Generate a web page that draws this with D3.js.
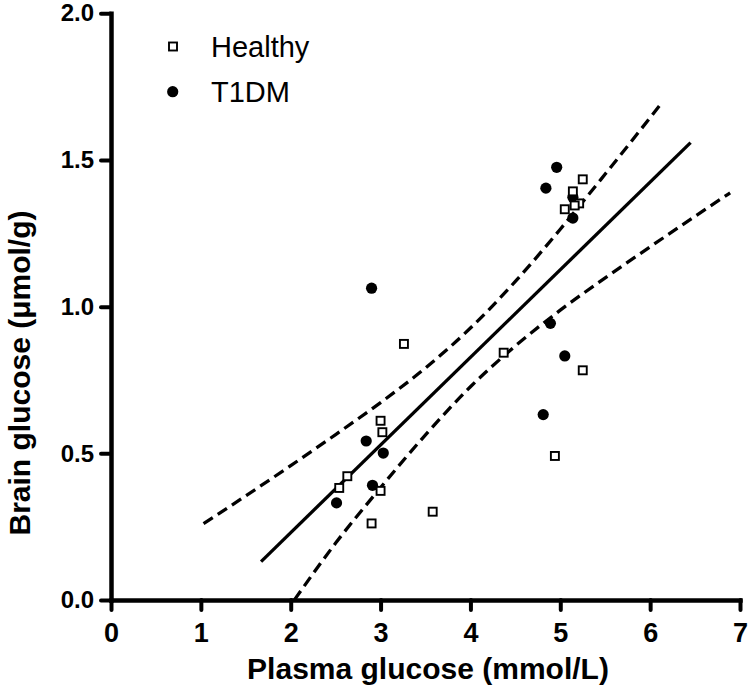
<!DOCTYPE html>
<html>
<head>
<meta charset="utf-8">
<script src="https://cdn.jsdelivr.net/npm/d3@7"></script>
<style>
  html, body { margin: 0; padding: 0; background: #fff; }
  svg { display: block; font-family: "Liberation Sans", Arial, sans-serif; }
</style>
</head>
<body>
<svg id="chart" width="749" height="693"></svg>
<script>
// ---- Data ----
const healthyX = [5.25, 5.14, 5.21, 5.16, 5.05, 3.26, 4.37, 5.25, 3.00, 3.02, 2.63, 2.54, 3.00, 3.58, 2.90, 4.94];
const healthyY = [1.434, 1.393, 1.352, 1.345, 1.332, 0.873, 0.843, 0.783, 0.611, 0.572, 0.422, 0.382, 0.372, 0.301, 0.261, 0.491];

const t1dmX = [4.96, 4.84, 5.14, 5.14, 2.90, 4.89, 5.05, 4.81, 2.84, 3.03, 2.91, 2.51];
const t1dmY = [1.475, 1.404, 1.373, 1.302, 1.063, 0.943, 0.832, 0.632, 0.542, 0.501, 0.391, 0.331];

// Regression line end points
const fitX = [1.67, 6.45];
const fitY = [0.131, 1.559];

// Confidence band (upper) points
const upperX = [1.03, 1.5, 2.0, 2.5, 3.0, 3.5, 4.0, 4.5, 5.0, 5.5, 6.12];
const upperY = [0.26, 0.355, 0.458, 0.564, 0.673, 0.791, 0.927, 1.086, 1.264, 1.452, 1.691];

// Confidence band (lower) points
const lowerX = [2.04, 2.5, 3.0, 3.5, 4.0, 4.5, 5.0, 5.5, 6.0, 6.5, 6.89];
const lowerY = [0.0, 0.194, 0.383, 0.563, 0.727, 0.866, 0.988, 1.098, 1.204, 1.308, 1.388];

const xTicks = [0, 1, 2, 3, 4, 5, 6, 7];
const yTicks = [0, 0.5, 1.0, 1.5, 2.0];

const legendLabels = ["Healthy", "T1DM"];
const xTitle = "Plasma glucose (mmol/L)";
const yTitle = "Brain glucose (\u03bcmol/g)";

// ---- Chart ----
const svg = d3.select("#chart");
const x = d3.scaleLinear().domain([0, 7]).range([111, 740]);
const y = d3.scaleLinear().domain([0, 2]).range([600, 13.3]);

const line = d3.line().x(d => x(d[0])).y(d => y(d[1]));
const curve = d3.line().x(d => x(d[0])).y(d => y(d[1])).curve(d3.curveMonotoneX);

// bands
[[upperX, upperY], [lowerX, lowerY]].forEach(([xs, ys]) => {
  svg.append("path")
    .attr("d", curve(xs.map((v, i) => [v, ys[i]])))
    .attr("fill", "none").attr("stroke", "#000").attr("stroke-width", 3.3)
    .attr("stroke-dasharray", "11,6");
});
// fit
svg.append("path")
  .attr("d", line(fitX.map((v, i) => [v, fitY[i]])))
  .attr("fill", "none").attr("stroke", "#000").attr("stroke-width", 3.3);

// axes
const yAxis = d3.axisLeft(y).tickValues(yTicks).tickFormat(d3.format(".1f"))
  .tickSize(10).tickSizeOuter(0).tickPadding(7);
const xAxis = d3.axisBottom(x).tickValues(xTicks).tickFormat(d3.format("d"))
  .tickSize(10).tickSizeOuter(0).tickPadding(13);

const gy = svg.append("g").attr("transform", `translate(${x(0)},0)`).call(yAxis);
const gx = svg.append("g").attr("transform", `translate(0,${y(0)})`).call(xAxis);

[gx, gy].forEach(g => {
  g.select(".domain").attr("stroke-width", 4.5).attr("stroke-linecap", "square");
  g.selectAll(".tick line").attr("stroke-width", 4).attr("stroke-linecap", "round");
  g.selectAll(".tick text").attr("fill", "#000").attr("font-weight", "bold")
    .attr("font-family", "'Liberation Sans', Arial, sans-serif");
});
gy.selectAll(".tick text").attr("font-size", 24);
gx.selectAll(".tick text").attr("font-size", 27);

// points: T1DM circles
svg.append("g").selectAll("circle")
  .data(t1dmX.map((v, i) => [v, t1dmY[i]]))
  .join("circle")
  .attr("cx", d => x(d[0])).attr("cy", d => y(d[1])).attr("r", 5.6)
  .attr("fill", "#000");

// points: Healthy squares
const sq = 8;
svg.append("g").selectAll("rect")
  .data(healthyX.map((v, i) => [v, healthyY[i]]))
  .join("rect")
  .attr("x", d => x(d[0]) - sq / 2).attr("y", d => y(d[1]) - sq / 2)
  .attr("width", sq).attr("height", sq)
  .attr("fill", "#fff").attr("stroke", "#000").attr("stroke-width", 1.9);

// legend
const lg = svg.append("g");
lg.append("rect").attr("x", 173 - sq / 2).attr("y", 46.5 - sq / 2).attr("width", sq).attr("height", sq)
  .attr("fill", "#fff").attr("stroke", "#000").attr("stroke-width", 1.9);
lg.append("circle").attr("cx", 172.7).attr("cy", 91.7).attr("r", 5.6).attr("fill", "#000");
lg.append("text").attr("x", 211).attr("y", 57).attr("font-size", 29).text(legendLabels[0]);
lg.append("text").attr("x", 211).attr("y", 102).attr("font-size", 29).text(legendLabels[1]);

// titles
svg.append("text").attr("x", 428).attr("y", 679).attr("text-anchor", "middle")
  .attr("font-size", 30).attr("font-weight", "bold").text(xTitle);
svg.append("text").attr("transform", "translate(30,373) rotate(-90)").attr("text-anchor", "middle")
  .attr("font-size", 30).attr("font-weight", "bold").text(yTitle);
</script>
</body>
</html>
